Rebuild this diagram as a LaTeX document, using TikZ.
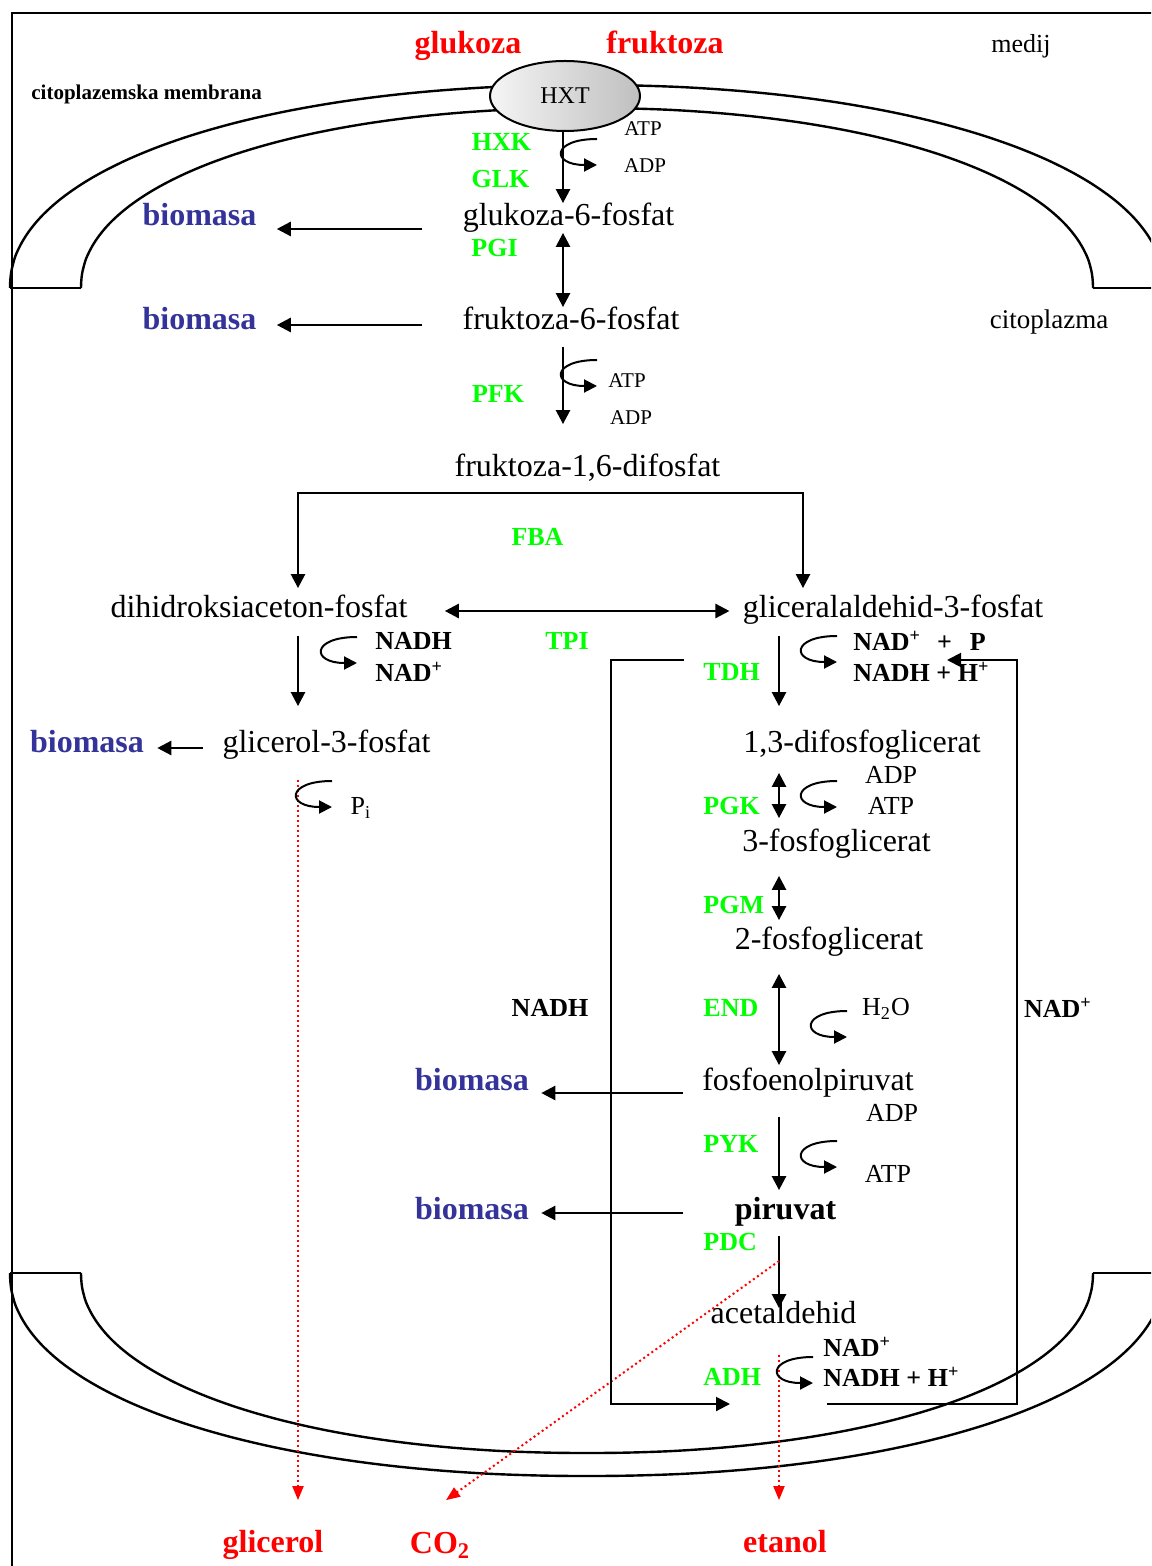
\documentclass[tikz,border=0pt]{standalone}
\usepackage{fontspec}
\setmainfont{Liberation Serif}
\usetikzlibrary{arrows.meta,calc,positioning,shapes.geometric}

\definecolor{enzgreen}{RGB}{0,255,0}
\definecolor{bioblue}{RGB}{51,51,153}

\tikzset{
  met/.style={font=\fontsize{16}{19}\selectfont, inner sep=0pt, text height=11pt, text depth=3.5pt, yshift=-1.5pt},
  bio/.style={met, font=\fontsize{16}{19}\selectfont\bfseries, text=bioblue},
  prod/.style={met, font=\fontsize{16}{19}\selectfont\bfseries, text=red},
  enz/.style={font=\fontsize{13}{15}\selectfont\bfseries, text=enzgreen, inner sep=0pt},
  cof/.style={font=\fontsize{13}{15}\selectfont, inner sep=0pt},
  cofb/.style={font=\fontsize{13}{15}\selectfont\bfseries, inner sep=0pt},
  cofs/.style={font=\fontsize{10.5}{12}\selectfont, inner sep=0pt},
  hxt/.style={ellipse, draw, line width=1pt, minimum width=75pt, minimum height=35pt, inner sep=0pt,
    left color=gray!8, right color=gray!50, font=\fontsize{12}{14}\selectfont},
  rx/.style={line width=1.25pt, -{Triangle[length=7pt,width=7pt]}},
  rxx/.style={line width=1.25pt, {Triangle[length=7pt,width=7pt]}-{Triangle[length=7pt,width=7pt]}},
  cyc/.style={line width=1pt, -{Triangle[length=7pt,width=7pt]}},
  efflux/.style={red, line width=1pt, dash pattern=on 1pt off 1.5pt, -{Triangle[length=7pt,width=5.5pt]}},
  memb/.style={line width=1.2pt},
  curl/.pic={\draw[line width=1pt, -{Triangle[length=6.5pt,width=6.5pt]}] (0,0) .. controls (-46,0) and (-46,26) .. (0,26);}
}

\begin{document}
\begin{tikzpicture}[x=0.5pt,y=-0.5pt]
 \useasboundingbox (0,0) rectangle (1151,1566);
 \fill[white] (0,0) rectangle (1151,1566);
 \clip (0,0) rectangle (1151,1566);
 % frame
 \draw[line width=1pt] (12,1600) -- (12,13) -- (1200,13);
 % membrane, top and bottom
 \foreach \rx/\ry in {577/203,506/180}{
   \draw[memb] plot[domain=180:360,samples=120,smooth]
     ({587+\rx*sign(cos(\x))*abs(cos(\x))^0.95},{288-\ry*abs(sin(\x))^0.95});
   \draw[memb] plot[domain=0:180,samples=120,smooth]
     ({587+\rx*sign(cos(\x))*abs(cos(\x))^0.95},{1273+\ry*abs(sin(\x))^0.95});
 }
 \foreach \y in {288,1273}{
   \draw[memb] (10,\y) -- (81,\y);
   \draw[memb] (1093,\y) -- (1170,\y);
 }
 \coordinate (colL) at (298,0);
 \coordinate (colM) at (563,0);
 \coordinate (colR) at (779,0);
 \coordinate (colF) at (803,0);

 % outside, labels
 \node[prod] (glc) at (468,43) {glukoza};
 \node[prod] (fru) at (665,43) {fruktoza};
 \node[cof] (med) at (1021,46) {medij};
 \node[cofs,font=\fontsize{10.5}{12}\selectfont\bfseries,anchor=west] (cm) at (31,94) {citoplazemska membrana};
 \node[cof,font=\fontsize{13.5}{15}\selectfont] (cyt) at (1049,322) {citoplazma};
 \node[hxt] (hxt) at (565,96) {HXT};

 % metabolites
 \node[met] (g6p) at (568.5,215) {glukoza-6-fosfat};
 \node[met] (f6p) at (571,319) {fruktoza-6-fosfat};
 \node[met] (fbp) at (587.5,466) {fruktoza-1,6-difosfat};
 \node[met] (dhap) at (259,607) {dihidroksiaceton-fosfat};
 \node[met] (gap) at (893,607) {gliceralaldehid-3-fosfat};
 \node[met] (g3p) at (326.5,742) {glicerol-3-fosfat};
 \node[met] (bpg) at (862,742) {1,3-difosfoglicerat};
 \node[met] (pg3) at (836.5,841) {3-fosfoglicerat};
 \node[met] (pg2) at (829,939) {2-fosfoglicerat};
 \node[met] (pep) at (808,1080) {fosfoenolpiruvat};
 \node[met,font=\fontsize{16}{19}\selectfont\bfseries] (pyr) at (785.5,1209) {piruvat};
 \node[met] (acet) at (783.5,1313) {acetaldehid};
 \node[prod] (glyc) at (273,1542) {glicerol};
 \node[prod] (co2) at (440,1543) {CO\textsubscript{2}};
 \node[prod] (etoh) at (785,1542) {etanol};
 \foreach \n/\x/\y in {bm1/199.5/215, bm2/199.5/319, bm3/87/742, bm4/472/1080, bm5/472/1209}
   \node[bio] (\n) at (\x,\y) {biomasa};

 % enzymes
 \foreach \n/\x/\y/\t in {hxk/501.5/142/HXK, glk/500.5/179/GLK, pgi/494.5/248/PGI,
                          pfk/498/394/PFK, fba/537.5/537/FBA, tpi/567/641/TPI}
   \node[enz] (\n) at (\x,\y) {\t};
 \foreach \n/\y/\t in {tdh/672/TDH, pgk/806/PGK, pgm/905/PGM, eno/1008/END,
                       pyk/1144/PYK, pdc/1242/PDC, adh/1377/ADH}
   \node[enz,anchor=west] (\n) at (703,\y) {\t};

 % cofactors
 \node[cofs] (atp1) at (643,129) {ATP};
 \node[cofs] (adp1) at (645,166) {ADP};
 \node[cofs] (atp2) at (627,381) {ATP};
 \node[cofs] (adp2) at (631,418) {ADP};
 \node[cofb,anchor=west] (nadh1) at (375,641) {NADH};
 \node[cofb,anchor=west] (nad1) at (375,672) {NAD\textsuperscript{+}};
 \node[cof] (pi) at (361,808) {P\textsubscript{i}};
 \node[cofb,anchor=west] (nad2) at (853,641) {NAD\textsuperscript{+}\hspace{8pt}+\hspace{9pt}P};
 \node[cofb,anchor=west] (nadh2) at (853,672) {NADH + H\textsuperscript{+}};
 \node[cof] (adp3) at (891,775) {ADP};
 \node[cof] (atp3) at (891,806) {ATP};
 \node[cof] (h2o) at (886,1009) {H\textsubscript{2}O};
 \node[cof] (adp4) at (892,1113) {ADP};
 \node[cof] (atp4) at (888,1174) {ATP};
 \node[cofb,anchor=west] (nad3) at (823,1347) {NAD\textsuperscript{+}};
 \node[cofb,anchor=west] (nadh3) at (823,1377) {NADH + H\textsuperscript{+}};
 \node[cofb] (nadhL) at (550,1008) {NADH};
 \node[cofb] (nadR) at (1058,1008) {NAD\textsuperscript{+}};

 % upper glycolysis
 \draw[rx] (hxt.south -| colM) -- (g6p.north -| colM);
 \draw[rxx] (g6p.south -| colM) -- (f6p.north -| colM);
 \draw[rx,shorten <=5pt,shorten >=15pt] (f6p.south -| colM) -- (fbp.north -| colM);
 \draw[rx,shorten <=20pt,shorten >=10pt] ($(g6p.west)+(0,11)$) -- ($(g6p.west -| bm1.east)+(0,11)$);
 \draw[rx,shorten <=20pt,shorten >=10pt] ($(f6p.west)+(0,3)$) -- ($(f6p.west -| bm2.east)+(0,3)$);
 \coordinate (fork) at (550,493);
 \draw[rx,shorten >=3.5pt] (fork) -| (dhap.north -| colL);
 \draw[rx,shorten >=3.5pt] (fork) -| (gap.north -| colF);
 \draw[rxx,shorten <=18.5pt,shorten >=6.5pt] ($(dhap.east)+(0,1)$) -- ($(gap.west)+(0,1)$);

 % glycerol branch
 \draw[rx,shorten <=5.5pt,shorten >=12pt] (dhap.south -| colL) -- (g3p.north -| colL);
 \draw[rx,shorten <=9.5pt,shorten >=6.5pt] ($(g3p.west)+(0,3)$) -- ($(g3p.west -| bm3.east)+(0,3)$);
 \draw[efflux,shorten <=10pt,shorten >=15pt] (g3p.south -| colL) -- (glyc.north -| colL);

 % lower glycolysis
 \draw[rx,shorten <=5.5pt,shorten >=12pt] (gap.south -| colR) -- (bpg.north -| colR);
 \draw[rxx,shorten <=6.5pt,shorten >=5.5pt] (bpg.south -| colR) -- (pg3.north -| colR);
 \draw[rxx,shorten <=8.5pt,shorten >=3.5pt] (pg3.south -| colR) -- (pg2.north -| colR);
 \draw[rxx,shorten <=8.5pt,shorten >=1.5pt] (pg2.south -| colR) -- (pep.north -| colR);
 \draw[rx,shorten <=9.5pt,shorten >=3.5pt] (pep.south -| colR) -- (pyr.north -| colR);
 \draw[rx,shorten <=4.5pt,shorten >=-3.5pt] (pyr.south -| colR) -- (acet.north -| colR);
 \draw[rx,shorten <=9.5pt,shorten >=6pt] ($(pep.west)+(0,10)$) -- ($(pep.west -| bm4.east)+(0,10)$);
 \draw[rx,shorten <=25.5pt,shorten >=6pt] ($(pyr.west)+(0,1)$) -- ($(pyr.west -| bm5.east)+(0,1)$);

 % fermentation products
 \coordinate (decarb) at (779,1261);
 \draw[efflux] (decarb) -- ([xshift=3pt,yshift=15.5pt]co2.north);
 \draw[efflux,shorten <=12pt,shorten >=15pt] (acet.south -| colR) -- (etoh.north -| colR);

 % NADH / NAD+ cycling
 \coordinate (tdhin) at (684,660);
 \coordinate (adhin) at (730,1404);
 \coordinate (adhout) at (827,1404);
 \coordinate (tdhout) at (947,660);
 \draw[cyc] (tdhin) -| ([xshift=11pt]nadhL.east) |- (adhin);
 \draw[cyc] (adhout) -| ([xshift=-3.5pt]nadR.west) |- (tdhout);

 % cofactor turns
 \foreach \x/\y in {597/139, 597/360, 357/637, 837/636, 837/781, 847/1011, 837/1141, 813/1357, 332/781}
   \pic at (\x,\y) {curl};
\end{tikzpicture}
\end{document}
